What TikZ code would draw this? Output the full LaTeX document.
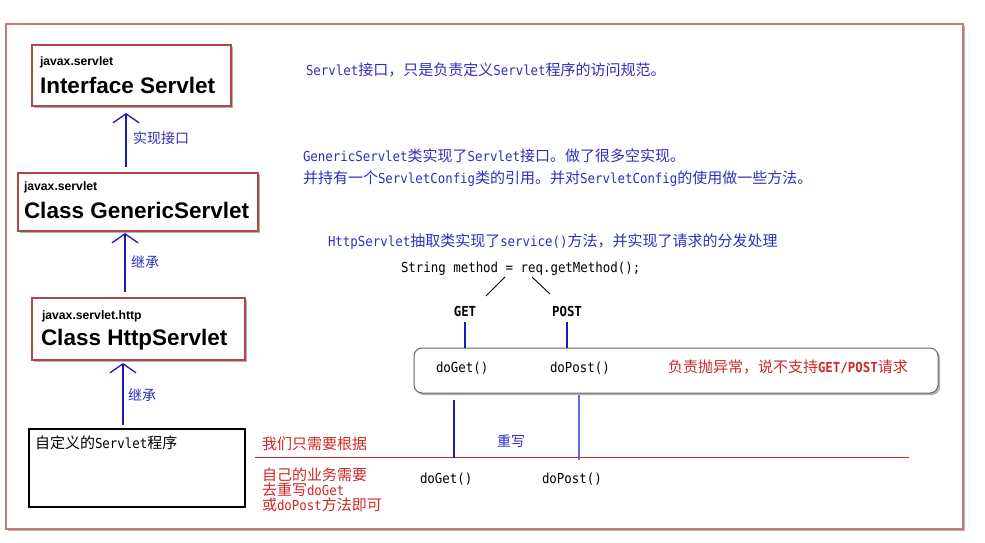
\documentclass[tikz,border=0pt]{standalone}
\usepackage{fontspec}
\setmainfont{Liberation Sans}
\newfontfamily\cjk{Noto Sans CJK SC}
\newfontfamily\monof[Scale=0.92,FakeStretch=0.9]{DejaVu Sans Mono}
\newcommand{\m}[1]{{\monof #1}}
\usetikzlibrary{shadows,arrows.meta,calc}
\definecolor{tblue}{HTML}{2F2FBF}
\definecolor{ablue}{HTML}{1A1AB8}
\definecolor{lblue}{HTML}{6A6AC8}
\definecolor{tred}{HTML}{D02828}
\definecolor{bord}{HTML}{B04848}
\definecolor{frm}{HTML}{C07878}
\tikzset{
  every node/.style={inner sep=0pt, outer sep=0pt},
  shad/.style={drop shadow={shadow xshift=2pt, shadow yshift=-2pt, fill=black, opacity=0.3}},
  cbox/.style={draw=bord, line width=1.2pt, fill=white, shad},
  uarr/.style={draw=ablue, line width=1.5pt, -{Straight Barb[length=9pt,width=26pt,line width=1.3pt]}},
  bt/.style={font=\cjk\fontsize{15}{18}\selectfont, text=tblue, anchor=base west},
  rt/.style={font=\cjk\fontsize{15}{18}\selectfont, text=tred, anchor=base west},
  kt/.style={font=\cjk\fontsize{15}{18}\selectfont, text=black, anchor=base west},
  lbl/.style={font=\cjk\fontsize{14}{16}\selectfont, text=tblue, anchor=base west},
  small/.style={font=\bfseries\fontsize{12.2}{14}\selectfont, anchor=base west},
  big/.style={font=\bfseries\fontsize{22.5}{26}\selectfont, anchor=base west},
  vline/.style={draw=ablue, line width=1.3pt},
}
\begin{document}
\begin{tikzpicture}[x=1pt,y=-1pt]
\useasboundingbox (0,0) rectangle (985,543);
% outer frame
\node[draw=frm, line width=1.5pt, fill=white, shad, minimum width=957pt, minimum height=505pt] (frame) at (484.5,276.5) {};

% class boxes
\node[cbox, minimum width=199pt, minimum height=61pt] (iface) at (131.5,75.5) {};
\node[small] (i1) at (40,66) {javax.servlet};
\node[big] (i2) at (40,93) {Interface Servlet};

\node[cbox, minimum width=240pt, minimum height=58pt] (generic) at (138,202) {};
\node[small] (g1) at (24,190) {javax.servlet};
\node[big] (g2) at (24,218) {Class GenericServlet};

\node[cbox, minimum width=213pt, minimum height=62pt] (http) at (138.5,329) {};
\node[small] (h1) at (42,319) {javax.servlet.http};
\node[big] (h2) at (41,345) {Class HttpServlet};

\node[draw=black, line width=2pt, fill=white, minimum width=216pt, minimum height=78pt] (custom) at (137,468) {};
\node[kt] (c1t) at (35,448) {自定义的\m{Servlet}程序};

% arrows
\coordinate (ax1) at (126,0);
\coordinate (ax2) at (125,0);
\coordinate (ax3) at (123,0);
\draw[uarr, shorten <=6pt, shorten >=7pt] (ax1 |- generic.north) -- (ax1 |- iface.south);
\draw[uarr, shorten <=6pt, shorten >=2pt] (ax2 |- http.north) -- (ax2 |- generic.south);
\draw[uarr, shorten <=4pt, shorten >=3pt] (ax3 |- custom.north) -- (ax3 |- http.south);
\node[lbl] (l1) at (133,143) {实现接口};
\node[lbl] (l2) at (131,267) {继承};
\node[lbl] (l3) at (128,400) {继承};

% right texts
\node[bt] (t1) at (306,75) {\m{Servlet}接口，只是负责定义\m{Servlet}程序的访问规范。};
\node[bt] (t2) at (303,161) {\m{GenericServlet}类实现了\m{Servlet}接口。做了很多空实现。};
\node[bt] (t3) at (303,183) {并持有一个\m{ServletConfig}类的引用。并对\m{ServletConfig}的使用做一些方法。};
\node[bt] (t4) at (328,246) {\m{HttpServlet}抽取类实现了\m{service()}方法，并实现了请求的分发处理};
\node[kt] (meth) at (401,272) {\m{String method = req.getMethod();}};

\coordinate (d1a) at (486,296); \coordinate (d1b) at (505,277);
\coordinate (d2a) at (532,277); \coordinate (d2b) at (550,294);
\draw[line width=0.9pt] (d1a) -- (d1b);
\draw[line width=0.9pt] (d2a) -- (d2b);

\node[kt, anchor=base] (get) at (465,316) {\m{\bfseries GET}};
\node[kt, anchor=base] (post) at (567,316) {\m{\bfseries POST}};

% dispatch box
\node[draw=black!60, line width=1pt, rounded corners=8pt, fill=white, shad, minimum width=524pt, minimum height=45pt] (rbox) at (676,370.5) {};
\node[kt] (dg1) at (436,372) {\m{doGet()}};
\node[kt] (dp1) at (550,372) {\m{doPost()}};
\node[rt] (err) at (668,372) {负责抛异常，说不支持\m{\bfseries GET/POST}请求};

\coordinate (gx) at (465,0);
\coordinate (px) at (567,0);
\draw[vline, shorten <=6pt] (gx |- get.south) -- (gx |- rbox.north);
\draw[vline, shorten <=6pt] (px |- post.south) -- (px |- rbox.north);

% override area
\coordinate (rl1) at (255,457);
\coordinate (rl2) at (909,457);
\draw[tred, line width=1pt] (rl1) -- (rl2);
\coordinate (vg) at (454,400);
\coordinate (vp) at (579,395);
\draw[vline] (vg) -- ([yshift=-1pt]vg |- rl1);
\draw[draw=lblue, line width=1.3pt] (vp) -- ([yshift=-3pt]vp |- rl1);

\node[rt] (r1) at (262,449) {我们只需要根据};
\node[rt] (r2) at (262,480) {自己的业务需要};
\node[rt] (r3) at (262,495) {去重写\m{doGet}};
\node[rt] (r4) at (262,510) {或\m{doPost}方法即可};
\node[lbl] (cw) at (497,446) {重写};
\node[kt] (dg2) at (420,483) {\m{doGet()}};
\node[kt] (dp2) at (542,483) {\m{doPost()}};
\end{tikzpicture}
\end{document}
